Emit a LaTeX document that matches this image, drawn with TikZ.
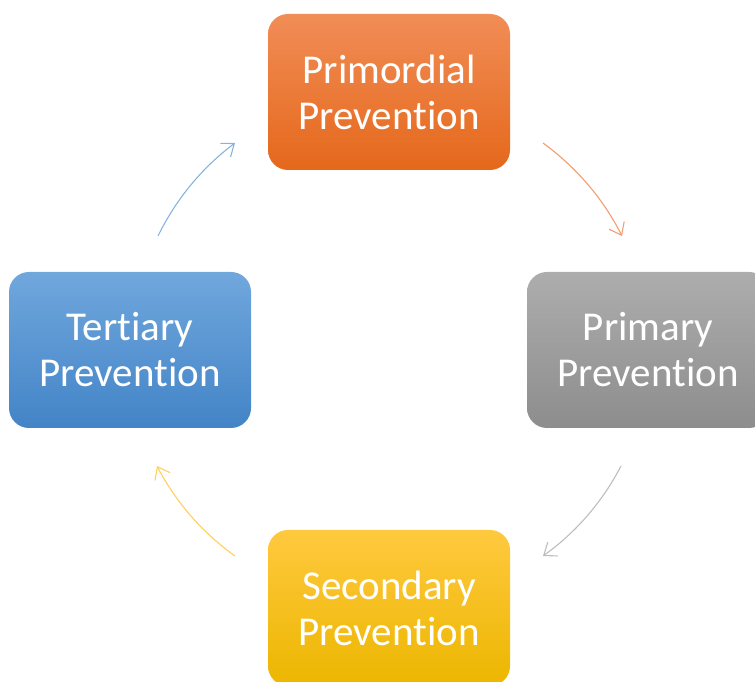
\documentclass[tikz,border=0pt]{standalone}
\usepackage{fontspec}
\setmainfont{Carlito}[Ligatures = NoCommon]
\usepackage{xcolor}
\usetikzlibrary{arrows.meta}

\definecolor{primordialtop}{HTML}{F18D57}
\definecolor{primordialbot}{HTML}{E5681B}
\definecolor{primarytop}{HTML}{ADADAD}
\definecolor{primarybot}{HTML}{8D8D8D}
\definecolor{secondarytop}{HTML}{FFC93F}
\definecolor{secondarybot}{HTML}{ECB600}
\definecolor{tertiarytop}{HTML}{70A7DD}
\definecolor{tertiarybot}{HTML}{4384C7}

\begin{document}
\begin{tikzpicture}
	[
	   x = 1pt, y = 1pt,
	   stage/.style = {rounded corners = 20pt, minimum width = 242pt, minimum height = 156pt,
	                   inner sep = 0pt, align = center, text = white,
	                   font = \fontsize{41}{46}\selectfont},
	   turn/.style = {-{Straight Barb[length = 11pt, width = 17pt]}, line width = 1.1pt},
	]
	\useasboundingbox (0,0) rectangle (755,682);
	\clip (0,0) rectangle (755,682);
	% the four stages
	\node [stage, top color = primordialtop, bottom color = primordialbot] (primordial) at (389,590) {Primordial\\Prevention};
	\node [stage, top color = primarytop, bottom color = primarybot] (primary) at (648,332) {Primary\\Prevention};
	\node [stage, top color = secondarytop, bottom color = secondarybot] (secondary) at (389,74) {Secondary\\Prevention};
	\node [stage, top color = tertiarytop, bottom color = tertiarybot] (tertiary) at (130,332) {Tertiary\\Prevention};
	% arrow ends
	\coordinate (a1) at (543,539);
	\coordinate (a2) at (622,446);
	\coordinate (b1) at (621,216);
	\coordinate (b2) at (543,126);
	\coordinate (c1) at (235,126);
	\coordinate (c2) at (157,216);
	\coordinate (d1) at (158,446);
	\coordinate (d2) at (235,539);
	\draw [turn, color = primordialtop!85!white] (a1) to [bend left = 13.5, looseness = 0.87] (a2);
	\draw [turn, color = primarytop!80!white] (b1) to [bend left = 13.5, looseness = 0.87] (b2);
	\draw [turn, color = secondarytop!85!white] (c1) to [bend left = 13.5, looseness = 0.87] (c2);
	\draw [turn, color = tertiarytop!85!white] (d1) to [bend left = 13.5, looseness = 0.87] (d2);
\end{tikzpicture}
\end{document}
